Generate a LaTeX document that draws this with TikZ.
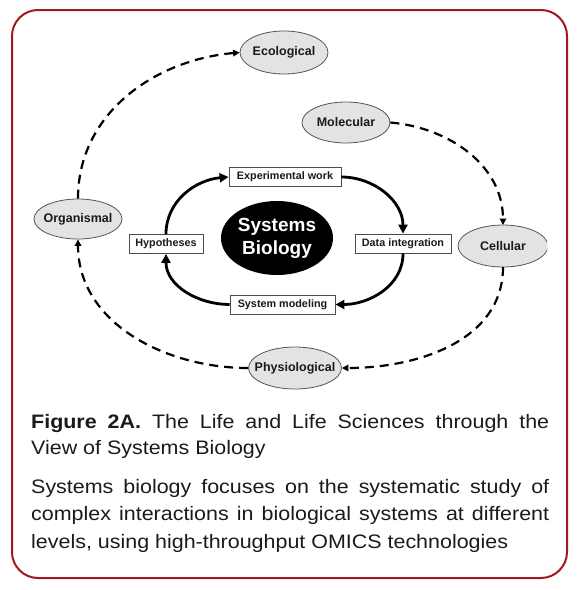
\documentclass[tikz,border=0pt]{standalone}
\usepackage{fontspec}
\setmainfont{Liberation Sans}
\newfontfamily\capfont{Liberation Sans}[FakeStretch=1.1]
\usetikzlibrary{arrows.meta,shapes.geometric}
\definecolor{framered}{HTML}{A0191C}
\definecolor{ellfill}{HTML}{E3E3E3}
\definecolor{ellline}{HTML}{555555}
\definecolor{txt}{HTML}{1A1A1A}
\newcommand{\zw}[1]{\makebox[0pt]{#1}}
\begin{document}
\begin{tikzpicture}[x=1pt,y=-1pt,
  level/.style={ellipse,draw=ellline,fill=ellfill,line width=0.8pt,inner sep=0pt,
    font=\fontsize{12.5}{14}\selectfont\bfseries,text=txt},
  stage/.style={rectangle,draw=black!70,fill=white,line width=0.8pt,inner sep=0pt,
    font=\fontsize{10.8}{12}\selectfont\bfseries,text=txt,minimum height=19pt},
  cyc/.style={line width=2.8pt,-{Triangle[length=9pt,width=9pt]}},
  lev/.style={line width=2.2pt,dash pattern=on 9pt off 6pt,-{Triangle[length=6.5pt,width=6.5pt]}},
  capline/.style={inner sep=0pt,anchor=base west,font=\capfont\fontsize{19.5}{26}\selectfont,text=txt}]
\useasboundingbox (0,0) rectangle (579,590);
\draw[framered,line width=2pt,rounded corners=26pt] (12,10) rectangle (567,578);

% level ellipses
\node[level,minimum width=88pt,minimum height=43pt] (eco) at (284,52.5) {\zw{Ecological}};
\node[level,minimum width=88pt,minimum height=41pt] (mol) at (346,122.5) {\zw{Molecular}};
\node[level,minimum width=88pt,minimum height=40pt] (org) at (78,219) {\zw{Organismal}};
\begin{scope}
\clip (440,200) rectangle (547,290);
\node[level,minimum width=90pt,minimum height=42pt] (cel) at (503,246) {\zw{Cellular}};
\end{scope}
\node[level,minimum width=93pt,minimum height=42pt] (phy) at (295,368) {\zw{Physiological}};

% centre
\node[ellipse,fill=black,text=white,minimum width=112pt,minimum height=74pt,inner sep=0pt,
  align=center,font=\fontsize{19}{23}\selectfont\bfseries] (sb) at (277,238) {\zw{Systems}\\\zw{Biology}};

% stage boxes
\node[stage,minimum width=112pt] (exp) at (285,177) {Experimental work};
\node[stage,minimum width=74pt] (hyp) at (166,244) {Hypotheses};
\node[stage,minimum width=96pt] (dat) at (403,243.5) {Data integration};
\node[stage,minimum width=105pt] (mod) at (282.5,304.5) {System modeling};

% inner cycle
\draw[cyc] (hyp.north) to[out=90,in=185] (exp.west);
\draw[cyc] (exp.east) to[out=0,in=90] (dat.north);
\draw[cyc] (dat.south) to[out=-90,in=0] (mod.east);
\draw[cyc] (mod.west) to[out=180,in=-90] (hyp.south);

% outer dashed
\coordinate (celN) at (503,225);
\coordinate (celS) at (503,267);
\draw[lev] (org.north) to[out=90,in=185] (eco.west);
\draw[lev] (mol.east) to[out=-5,in=90] (celN);
\draw[lev] (celS) to[out=-90,in=0] (phy.east);
\draw[lev] (phy.west) to[out=180,in=-90] (org.south);

% caption
\node[capline] (c1) at (31,428) {\makebox[518pt][s]{\textbf{Figure 2A.} The Life and Life Sciences through the}};
\node[capline] (c2) at (31,454) {View of Systems Biology};
\node[capline] (c3) at (31,493) {\makebox[518pt][s]{Systems biology focuses on the systematic study of}};
\node[capline] (c4) at (31,520.5) {\makebox[518pt][s]{complex interactions in biological systems at different}};
\node[capline] (c5) at (31,548) {levels, using high-throughput OMICS technologies};
\end{tikzpicture}
\end{document}
